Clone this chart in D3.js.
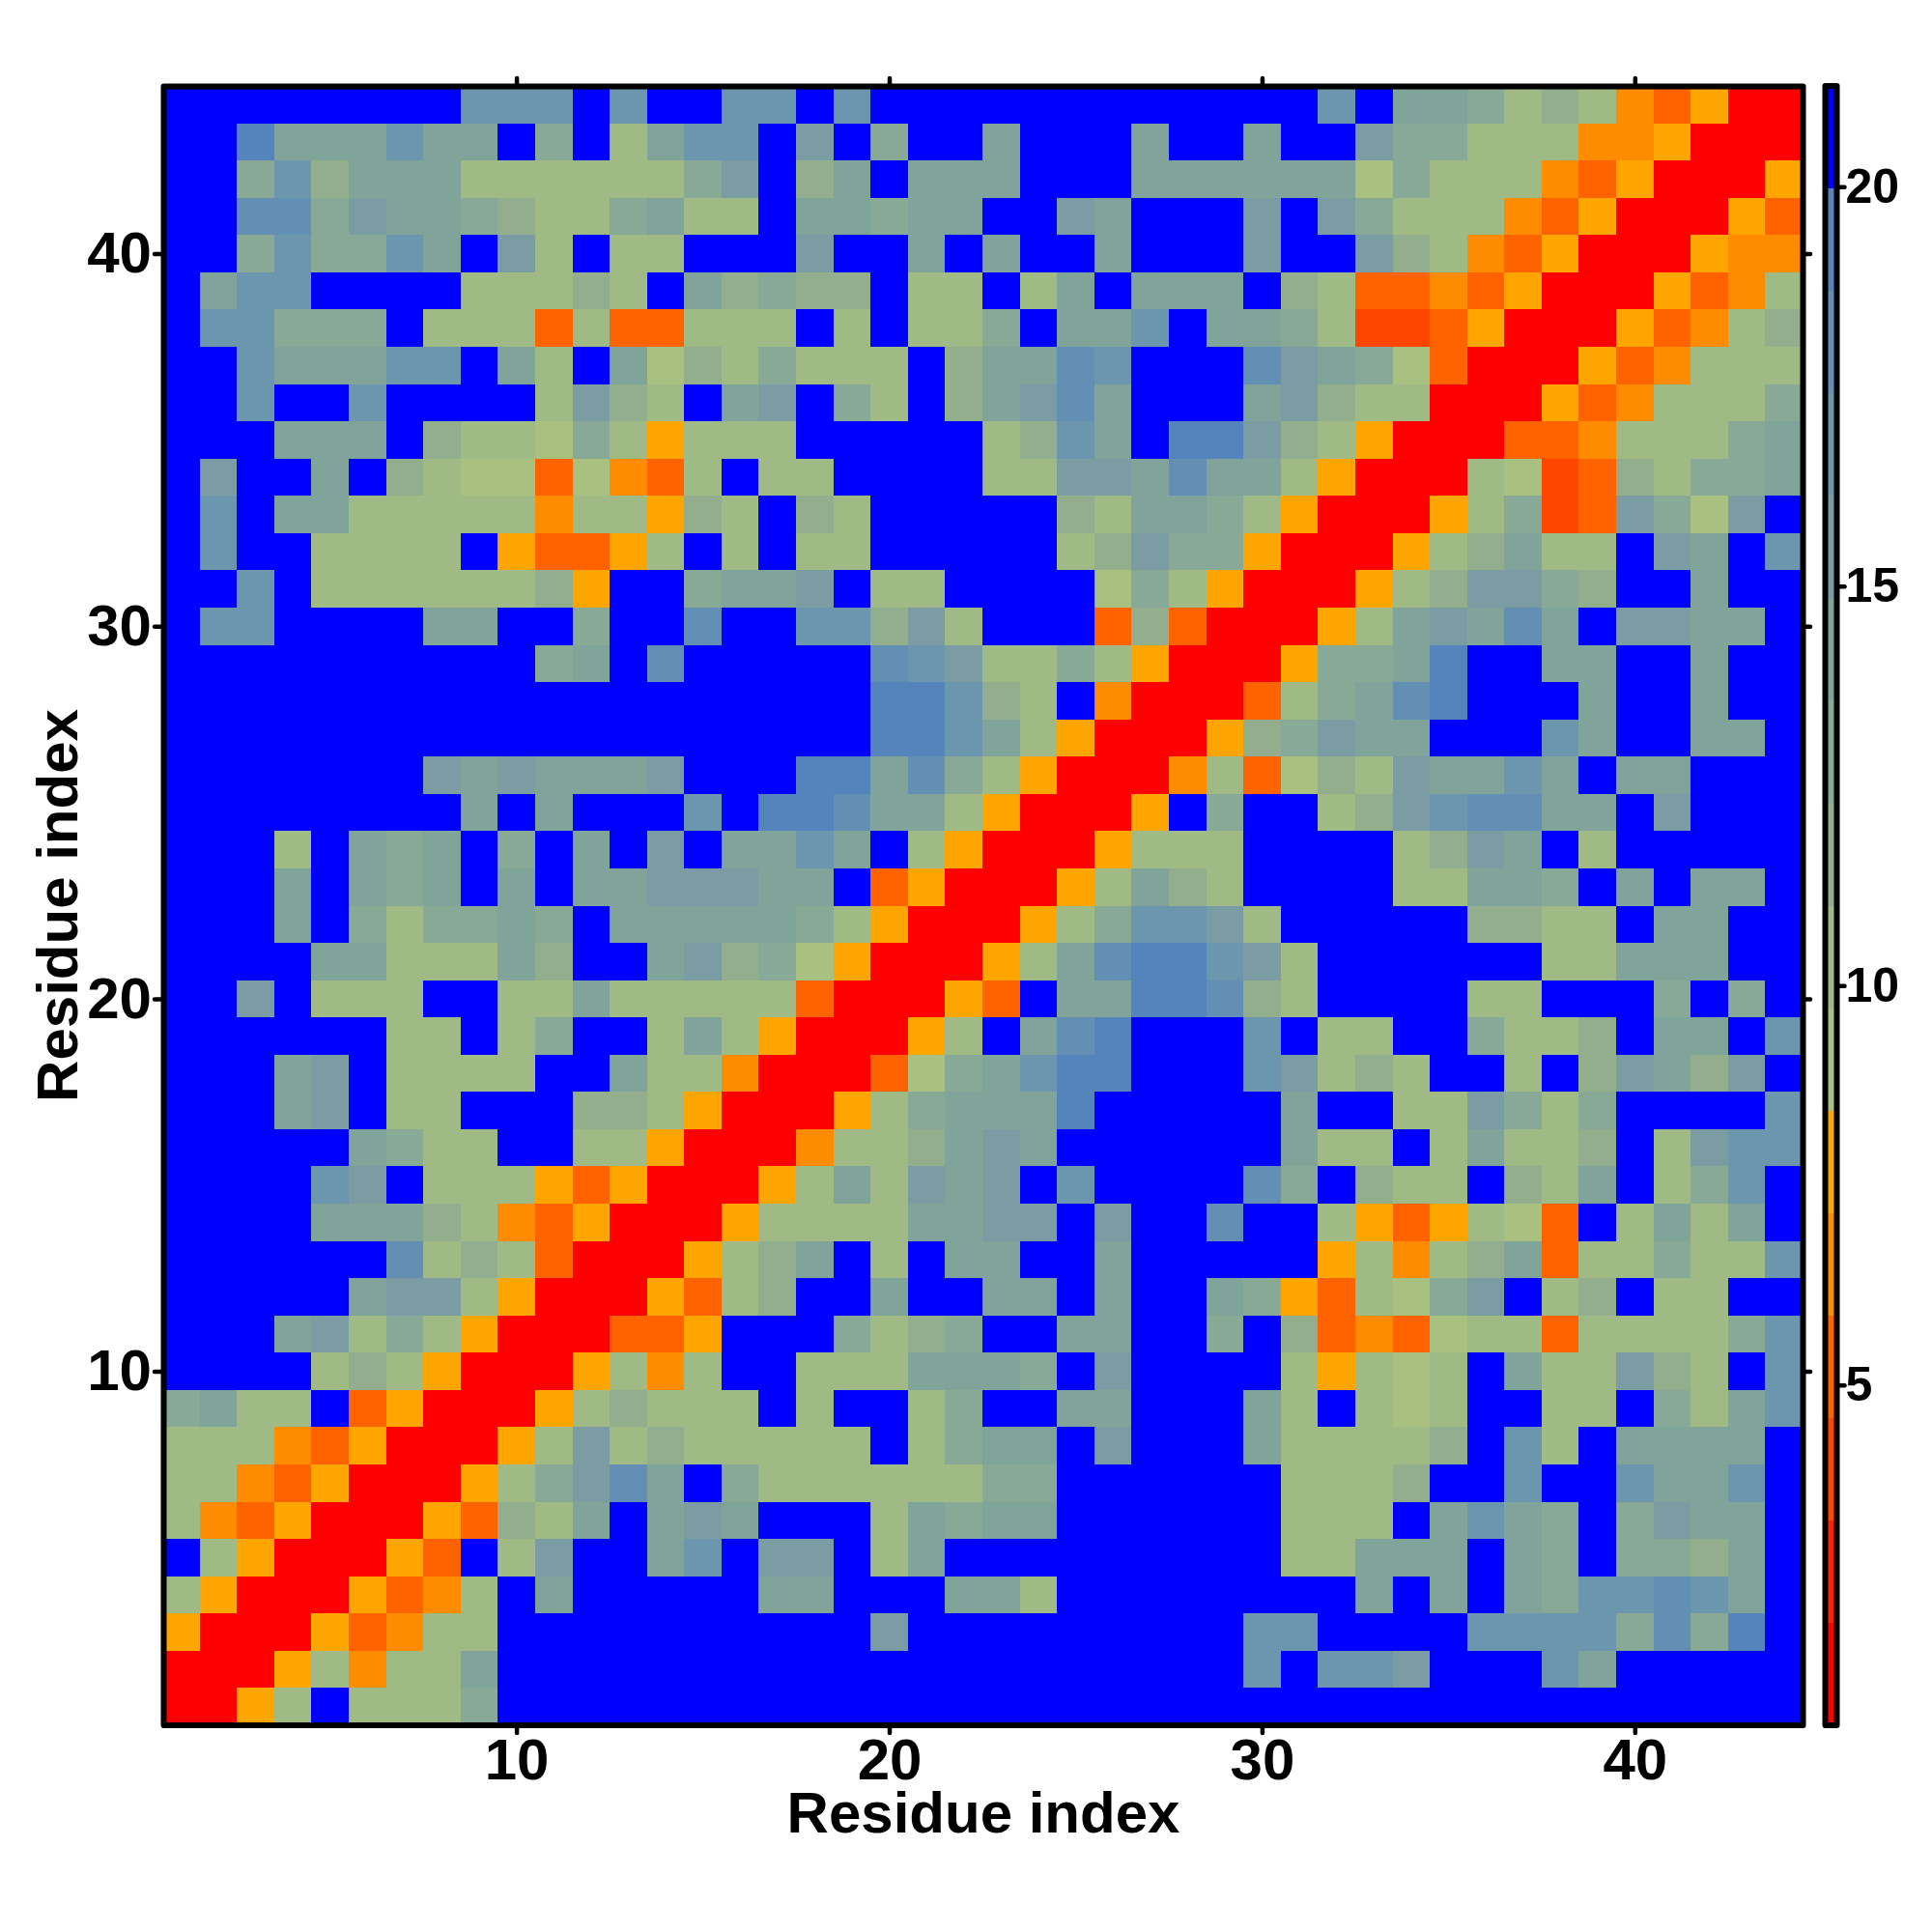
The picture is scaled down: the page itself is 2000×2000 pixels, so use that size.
<!DOCTYPE html>
<html><head><meta charset="utf-8">
<script src="https://cdn.jsdelivr.net/npm/d3@7"></script>
<style>html,body{margin:0;background:#fff}svg{display:block}text{font-family:"Liberation Sans",Arial,sans-serif;font-weight:bold;fill:#000}</style>
</head><body><div id="chart"></div>
<script>
// Contact-map distances, lower triangle: distanceRows[j-1][i-1] is the value for residues (i, j), i <= j.
const distanceRows = [
[1.4],
[1.4,1.4],
[7.8,1.4,1.4],
[10.4,7.8,1.4,1.4],
[20.6,10.4,7.8,1.4,1.4],
[10.4,6.5,5.2,7.8,1.4,1.4],
[10.4,10.4,6.5,5.2,7.8,1.4,1.4],
[10.4,10.4,10.4,6.5,5.2,7.8,1.4,1.4],
[12.9,14.2,10.4,10.4,20.6,5.2,7.8,1.4,1.4],
[20.6,20.6,20.6,20.6,10.4,11.6,10.4,7.8,1.4,1.4],
[20.6,20.6,20.6,14.2,15.5,10.4,12.9,10.4,7.8,1.4,1.4],
[20.6,20.6,20.6,20.6,20.6,14.2,15.5,15.5,10.4,7.8,1.4,1.4],
[20.6,20.6,20.6,20.6,20.6,20.6,18.1,10.4,11.6,10.4,5.2,1.4,1.4],
[20.6,20.6,20.6,20.6,14.2,14.2,14.2,11.6,10.4,6.5,5.2,7.8,1.4,1.4],
[20.6,20.6,20.6,20.6,16.8,15.5,20.6,10.4,10.4,10.4,7.8,5.2,7.8,1.4,1.4],
[20.6,20.6,20.6,20.6,20.6,14.2,12.9,10.4,10.4,20.6,20.6,10.4,10.4,7.8,1.4,1.4],
[20.6,20.6,20.6,14.2,15.5,20.6,10.4,10.4,20.6,20.6,20.6,11.6,11.6,10.4,7.8,1.4,1.4],
[20.6,20.6,20.6,14.2,15.5,20.6,10.4,10.4,10.4,10.4,20.6,20.6,14.2,10.4,10.4,6.5,1.4,1.4],
[20.6,20.6,20.6,20.6,20.6,20.6,10.4,10.4,20.6,10.4,12.9,20.6,20.6,10.4,14.2,10.4,7.8,1.4,1.4],
[20.6,20.6,15.5,20.6,10.4,10.4,10.4,20.6,20.6,10.4,10.4,14.2,10.4,10.4,10.4,10.4,10.4,5.2,1.4,1.4],
[20.6,20.6,20.6,20.6,14.2,14.2,10.4,10.4,10.4,14.2,11.6,20.6,20.6,14.2,15.5,11.6,12.9,9.1,7.8,1.4,1.4],
[20.6,20.6,20.6,14.2,20.6,12.9,10.4,12.9,12.9,14.2,12.9,20.6,14.2,14.2,14.2,14.2,14.2,12.9,10.4,7.8,1.4,1.4],
[20.6,20.6,20.6,14.2,20.6,14.2,12.9,14.2,20.6,14.2,20.6,14.2,14.2,15.5,15.5,15.5,14.2,14.2,20.6,5.2,7.8,1.4,1.4],
[20.6,20.6,20.6,10.4,20.6,14.2,12.9,14.2,20.6,12.9,20.6,14.2,20.6,15.5,20.6,14.2,14.2,16.8,14.2,20.6,10.4,7.8,1.4,1.4],
[20.6,20.6,20.6,20.6,20.6,20.6,20.6,20.6,14.2,20.6,14.2,20.6,20.6,20.6,16.8,20.6,19.3,19.3,18.1,14.2,14.2,10.4,7.8,1.4,1.4],
[20.6,20.6,20.6,20.6,20.6,20.6,20.6,15.5,14.2,15.5,14.2,14.2,14.2,15.5,20.6,20.6,20.6,19.3,19.3,14.2,18.1,12.9,10.4,7.8,1.4,1.4],
[20.6,20.6,20.6,20.6,20.6,20.6,20.6,20.6,20.6,20.6,20.6,20.6,20.6,20.6,20.6,20.6,20.6,20.6,20.6,19.3,19.3,16.8,14.2,10.4,7.8,1.4,1.4],
[20.6,20.6,20.6,20.6,20.6,20.6,20.6,20.6,20.6,20.6,20.6,20.6,20.6,20.6,20.6,20.6,20.6,20.6,20.6,19.3,19.3,16.8,11.6,10.4,20.6,6.5,1.4,1.4],
[20.6,20.6,20.6,20.6,20.6,20.6,20.6,20.6,20.6,20.6,12.9,14.2,20.6,18.1,20.6,20.6,20.6,20.6,20.6,18.1,16.8,15.5,10.4,10.4,12.9,10.4,7.8,1.4,1.4],
[20.6,16.8,16.8,20.6,20.6,20.6,20.6,14.2,14.2,20.6,20.6,12.9,20.6,20.6,18.1,20.6,20.6,16.8,16.8,11.6,15.5,10.4,20.6,20.6,20.6,5.2,11.6,5.2,1.4,1.4],
[20.6,20.6,16.8,20.6,10.4,10.4,10.4,10.4,10.4,10.4,11.6,7.8,20.6,20.6,12.9,14.2,14.2,15.5,20.6,10.4,10.4,20.6,20.6,20.6,20.6,9.1,12.9,10.4,7.8,1.4,1.4],
[20.6,16.8,20.6,20.6,10.4,10.4,10.4,10.4,20.6,7.8,5.2,5.2,7.8,10.4,20.6,10.4,20.6,10.4,10.4,20.6,20.6,20.6,20.6,20.6,10.4,11.6,15.5,12.9,12.9,7.8,1.4,1.4],
[20.6,16.8,20.6,14.2,14.2,10.4,10.4,10.4,10.4,10.4,6.5,10.4,10.4,7.8,11.6,10.4,20.6,11.6,10.4,20.6,20.6,20.6,20.6,20.6,11.6,10.4,14.2,14.2,12.9,10.4,7.8,1.4,1.4],
[20.6,15.5,20.6,20.6,14.2,20.6,11.6,10.4,9.1,9.1,5.2,9.1,6.5,5.2,10.4,20.6,10.4,10.4,20.6,20.6,20.6,20.6,10.4,10.4,15.5,15.5,14.2,18.1,14.2,14.2,10.4,7.8,1.4,1.4],
[20.6,20.6,20.6,14.2,14.2,14.2,20.6,11.6,10.4,10.4,9.1,12.9,10.4,7.8,10.4,10.4,10.4,20.6,20.6,20.6,20.6,20.6,10.4,11.6,16.8,14.2,20.6,19.3,19.3,15.5,11.6,10.4,7.8,1.4,1.4],
[20.6,20.6,16.8,20.6,20.6,16.8,20.6,20.6,20.6,20.6,10.4,15.5,11.6,10.4,20.6,14.2,15.5,20.6,12.9,10.4,20.6,11.6,14.2,15.5,18.1,14.2,20.6,20.6,20.6,14.2,15.5,11.6,10.4,10.4,1.4,1.4],
[20.6,20.6,16.8,14.2,14.2,14.2,16.8,16.8,20.6,14.2,10.4,20.6,14.2,9.1,11.6,10.4,12.9,10.4,10.4,10.4,20.6,11.6,14.2,14.2,18.1,16.8,20.6,20.6,20.6,18.1,15.5,14.2,12.9,9.1,5.2,1.4,1.4],
[20.6,16.8,16.8,12.9,12.9,12.9,20.6,10.4,10.4,10.4,5.2,10.4,5.2,5.2,10.4,10.4,10.4,20.6,10.4,20.6,10.4,10.4,12.9,20.6,14.2,14.2,16.8,20.6,14.2,14.2,12.9,10.4,4,4,5.2,7.8,1.4,1.4],
[20.6,14.2,16.8,16.8,20.6,20.6,20.6,20.6,10.4,10.4,10.4,11.6,10.4,20.6,14.2,11.6,12.9,11.6,11.6,20.6,10.4,10.4,20.6,10.4,14.2,20.6,14.2,14.2,14.2,20.6,11.6,10.4,5.2,5.2,6.5,5.2,7.8,1.4,1.4],
[20.6,20.6,12.9,16.8,12.9,12.9,16.8,14.2,20.6,15.5,10.4,20.6,10.4,10.4,20.6,20.6,20.6,15.5,20.6,20.6,14.2,20.6,14.2,20.6,20.6,14.2,20.6,20.6,20.6,15.5,20.6,20.6,15.5,11.6,10.4,6.5,5.2,7.8,1.4,1.4],
[20.6,20.6,18.1,18.1,12.9,15.5,14.2,14.2,12.9,11.6,10.4,10.4,12.9,14.2,10.4,10.4,20.6,14.2,14.2,12.9,14.2,14.2,20.6,20.6,15.5,14.2,20.6,20.6,20.6,15.5,20.6,15.5,12.9,10.4,10.4,10.4,6.5,5.2,7.8,1.4,1.4],
[20.6,20.6,12.9,16.8,11.6,14.2,14.2,14.2,10.4,10.4,10.4,10.4,10.4,10.4,12.9,15.5,20.6,11.6,14.2,20.6,14.2,14.2,14.2,20.6,20.6,20.6,14.2,14.2,14.2,14.2,14.2,14.2,9.1,12.9,10.4,10.4,10.4,6.5,5.2,7.8,1.4,1.4],
[20.6,20.6,19.3,14.2,14.2,14.2,16.8,14.2,14.2,20.6,12.9,20.6,10.4,14.2,16.8,16.8,20.6,15.5,20.6,12.9,20.6,20.6,14.2,20.6,20.6,20.6,14.2,20.6,20.6,14.2,20.6,20.6,15.5,12.9,12.9,10.4,10.4,10.4,6.5,6.5,7.8,1.4,1.4],
[20.6,20.6,20.6,20.6,20.6,20.6,20.6,20.6,16.8,16.8,16.8,20.6,16.8,20.6,20.6,16.8,16.8,20.6,16.8,20.6,20.6,20.6,20.6,20.6,20.6,20.6,20.6,20.6,20.6,20.6,20.6,16.8,20.6,14.2,14.2,12.9,10.4,11.6,10.4,6.5,5.2,7.8,1.4,1.4]
];
const residueCount = 44;
const axisTicks = [10, 20, 30, 40];
const colorbarTicks = [5, 10, 15, 20];
const colorDomain = [0.74, 21.26];
const colorLevels = ["#ff0000","#ff2200","#ff4500","#ff6300","#ff8c00","#ffa500","#a8c080","#a0ba85","#93ae8c","#88a995","#80a49a","#7b9ca3","#6c96ae","#638fb5","#5484bb","#0000ff"];
const axisTitle = "Residue index";

const W = 2000, H = 2000;
const plot = {left: 168, right: 1866, top: 89, bottom: 1786};
const bar = {left: 1892, right: 1899};
const svg = d3.select("#chart").append("svg").attr("width", W).attr("height", H);

const x = d3.scaleLinear().domain([0.5, residueCount + 0.5]).range([plot.left, plot.right]);
const y = d3.scaleLinear().domain([0.5, residueCount + 0.5]).range([plot.bottom, plot.top]);
const color = d3.scaleQuantize().domain(colorDomain).range(colorLevels);
const barY = d3.scaleLinear().domain(colorDomain).range([plot.bottom, plot.top]);

const cells = [];
distanceRows.forEach((row, j) => row.forEach((v, i) => {
  cells.push({i: i + 1, j: j + 1, v});
  if (i !== j) cells.push({i: j + 1, j: i + 1, v});
}));

svg.append("g").attr("shape-rendering", "crispEdges").selectAll("rect").data(cells).join("rect")
  .attr("x", d => Math.round(x(d.i - 0.5)))
  .attr("y", d => Math.round(y(d.j + 0.5)))
  .attr("width", d => Math.round(x(d.i + 0.5)) - Math.round(x(d.i - 0.5)))
  .attr("height", d => Math.round(y(d.j - 0.5)) - Math.round(y(d.j + 0.5)))
  .attr("fill", d => color(d.v));

function styleAxis(g, size) {
  g.select(".domain").remove();
  g.selectAll(".tick line").attr("stroke", "#000").attr("stroke-width", 4.5).attr("stroke-linecap", "round");
  g.selectAll(".tick text").style("font-size", size + "px").style("font-family", '"Liberation Sans",Arial,sans-serif').style("font-weight", "bold");
}
const tickLen = 8, labelSize = 60;
svg.append("g").attr("transform", `translate(0,${plot.bottom})`)
  .call(d3.axisBottom(x).tickValues(axisTicks).tickFormat(d3.format("d")).tickSize(tickLen).tickPadding(5))
  .call(styleAxis, labelSize);
svg.append("g").attr("transform", `translate(0,${plot.top})`)
  .call(d3.axisTop(x).tickValues(axisTicks).tickFormat("").tickSize(tickLen))
  .call(styleAxis, labelSize);
svg.append("g").attr("transform", `translate(${plot.left},0)`)
  .call(d3.axisLeft(y).tickValues(axisTicks).tickFormat(d3.format("d")).tickSize(tickLen).tickPadding(3))
  .call(styleAxis, labelSize);
svg.append("g").attr("transform", `translate(${plot.right},0)`)
  .call(d3.axisRight(y).tickValues(axisTicks).tickFormat("").tickSize(tickLen))
  .call(styleAxis, labelSize);

svg.append("rect").attr("x", plot.left + 1.5).attr("y", plot.top + 0.5)
  .attr("width", plot.right - plot.left - 1).attr("height", plot.bottom - plot.top - 0.5)
  .attr("fill", "none").attr("stroke", "#000").attr("stroke-width", 6).attr("stroke-linejoin", "round");

// colour bar
const bands = colorLevels.map(c => { const e = color.invertExtent(c); return {c, lo: e[0], hi: e[1]}; });
svg.append("g").attr("shape-rendering", "crispEdges").selectAll("rect").data(bands).join("rect")
  .attr("x", bar.left).attr("width", bar.right - bar.left)
  .attr("y", d => barY(d.hi)).attr("height", d => barY(d.lo) - barY(d.hi))
  .attr("fill", d => d.c);
svg.append("rect").attr("x", bar.left - 2.5).attr("y", plot.top)
  .attr("width", bar.right - bar.left + 5).attr("height", plot.bottom - plot.top)
  .attr("fill", "none").attr("stroke", "#000").attr("stroke-width", 6).attr("stroke-linejoin", "round");
svg.append("g").attr("transform", `translate(${bar.right + 2.5},0)`)
  .call(d3.axisRight(barY).tickValues(colorbarTicks).tickFormat(d3.format("d")).tickSize(tickLen).tickPadding(1))
  .call(styleAxis, 50);

svg.append("text").attr("x", (plot.left + plot.right) / 2 + 1).attr("y", 1897)
  .attr("text-anchor", "middle").style("font-size", "60px").text(axisTitle);
svg.append("text").attr("transform", `translate(80,${(plot.top + plot.bottom) / 2}) rotate(-90)`)
  .attr("text-anchor", "middle").style("font-size", "60px").text(axisTitle);
</script></body></html>
